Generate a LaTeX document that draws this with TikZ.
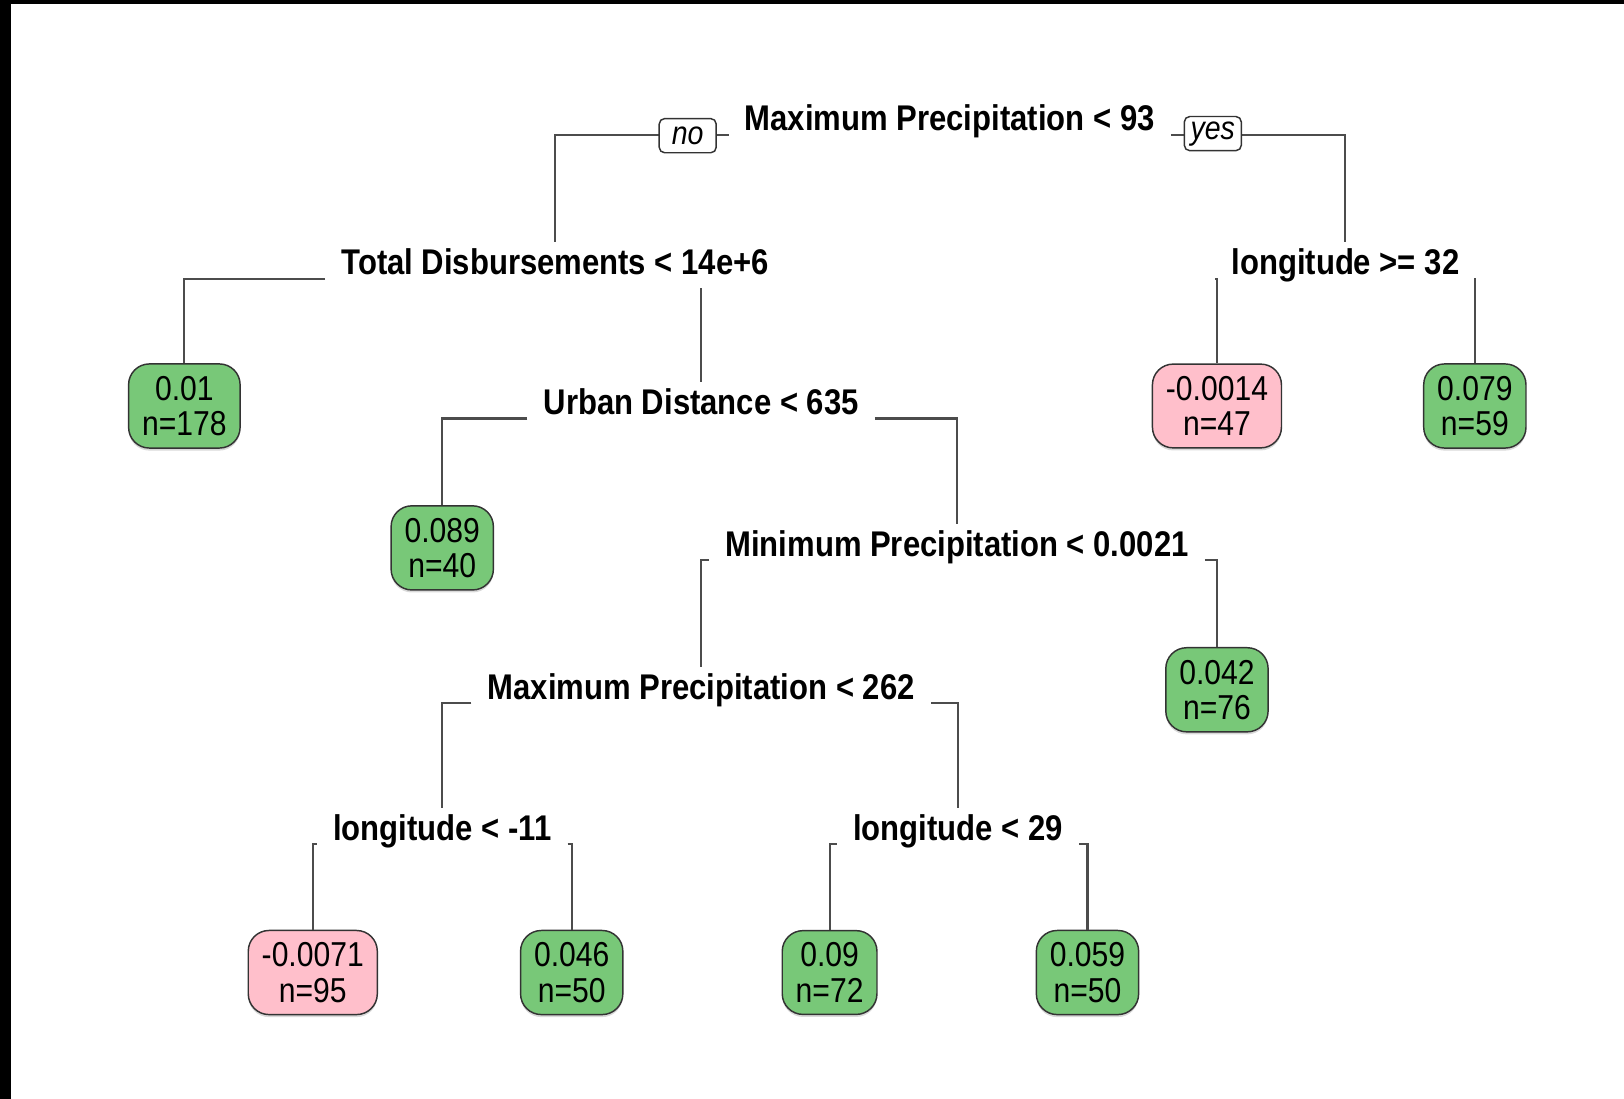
\documentclass[tikz,border=0pt]{standalone}
\usepackage{fontspec}
\setmainfont{Liberation Sans}[FakeStretch=0.87]
\usetikzlibrary{shadows}
\definecolor{leafgreen}{HTML}{78C878}
\definecolor{leafpink}{HTML}{FFBFCB}
\begin{document}
\begin{tikzpicture}[x=0.01cm,y=-0.01cm,
  split/.style={font=\fontsize{9.8}{10}\selectfont\bfseries,inner xsep=.15cm,inner ysep=1.5pt,text height=7.2pt,text depth=2pt},
  leaf/.style={draw=black!80,rounded corners=.2cm,align=center,inner xsep=.13cm,minimum height=.79cm,font=\fontsize{9.5}{9.7}\selectfont,drop shadow={shadow xshift=0pt,shadow yshift=-.7pt,opacity=.3}},
  gain/.style={leaf,fill=leafgreen},
  loss/.style={leaf,fill=leafpink},
  answer/.style={draw=black!80,fill=white,rounded corners=1.5pt,font=\fontsize{9}{9}\selectfont\itshape,minimum width=.55cm,minimum height=.33cm,inner sep=1pt},
  branch/.style={draw=black!70,line width=.6pt}]
  \useasboundingbox (0,0) rectangle (1568,1061);
  \fill[black] (0,0) rectangle (11,1061);
  \fill[black] (0,0) rectangle (1568,4);
  % splits
  \node (root) [split] at (917,117) {Maximum Precipitation < 93};
  \node (td) [split] at (536,256) {Total Disbursements < 14e+6};
  \node (lg1) [split] at (1299,256) {longitude >= 32};
  \node (ud) [split] at (677,391) {Urban Distance < 635};
  \node (mn) [split] at (924,528) {Minimum Precipitation < 0.0021};
  \node (mx) [split] at (677,666) {Maximum Precipitation < 262};
  \node (lg2) [split] at (427,802) {longitude < -11};
  \node (lg3) [split] at (925,802) {longitude < 29};
  % leaves
  \node (l1) [gain] at (178,392) {0.01\\n=178};
  \node (l2) [loss] at (1175,392) {-0.0014\\n=47};
  \node (l3) [gain] at (1424,392) {0.079\\n=59};
  \node (l4) [gain] at (427,529) {0.089\\n=40};
  \node (l5) [gain] at (1175,666) {0.042\\n=76};
  \node (l6) [loss] at (302,939) {-0.0071\\n=95};
  \node (l7) [gain] at (552,939) {0.046\\n=50};
  \node (l8) [gain] at (801,939) {0.09\\n=72};
  \node (l9) [gain] at (1050,939) {0.059\\n=50};
  % branches
  \draw[branch] ([yshift=-.13cm]root.west) -| (td.north);
  \draw[branch] ([yshift=-.13cm]root.east) -| (lg1.north);
  \draw[branch] ([yshift=-.13cm]td.west) -| (l1.north);
  \draw[branch] (td.south -| ud.north) -- (ud.north);
  \draw[branch] ([yshift=-.13cm]lg1.west) -| (l2.north);
  \draw[branch] ([yshift=-.13cm]lg1.east) -| (l3.north);
  \draw[branch] ([yshift=-.13cm]ud.west) -| (l4.north);
  \draw[branch] ([yshift=-.13cm]ud.east) -| (mn.north);
  \draw[branch] ([yshift=-.13cm]mn.west) -| (mx.north);
  \draw[branch] ([yshift=-.13cm]mn.east) -| (l5.north);
  \draw[branch] ([yshift=-.13cm]mx.west) -| (lg2.north);
  \draw[branch] ([yshift=-.13cm]mx.east) -| (lg3.north);
  \draw[branch] ([yshift=-.13cm]lg2.west) -| (l6.north);
  \draw[branch] ([yshift=-.13cm]lg2.east) -| (l7.north);
  \draw[branch] ([yshift=-.13cm]lg3.west) -| (l8.north);
  \draw[branch] ([yshift=-.13cm]lg3.east) -| (l9.north);
  \node (no) [answer] at (664,131) {no};
  \node (yes) [answer] at (1171,129) {yes};
\end{tikzpicture}
\end{document}
